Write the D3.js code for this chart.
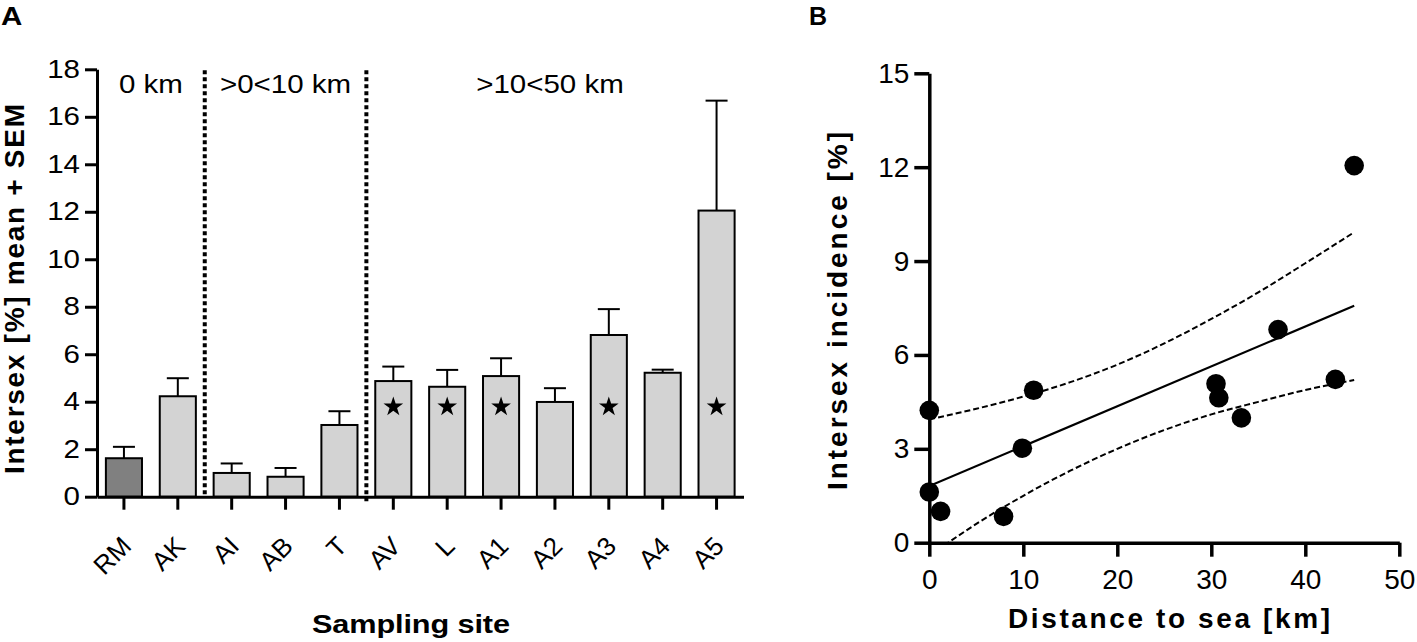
<!DOCTYPE html>
<html>
<head>
<meta charset="utf-8">
<script src="https://cdn.jsdelivr.net/npm/d3@7"></script>
<style>
  body { margin: 0; background: #fff; }
  svg { display: block; font-family: "Liberation Sans", Arial, sans-serif; }
</style>
</head>
<body>
<script>
// panel A: intersex incidence per site (mean, SEM)
const sites = ["RM", "AK", "AI", "AB", "T", "AV", "L", "A1", "A2", "A3", "A4", "A5"];
const meanIncidence = [1.62, 4.23, 1.0, 0.84, 3.02, 4.87, 4.63, 5.08, 3.99, 6.81, 5.22, 12.05];
const semIncidence = [0.48, 0.76, 0.4, 0.37, 0.58, 0.61, 0.71, 0.75, 0.58, 1.09, 0.13, 4.63];
const starredSites = ["AV", "L", "A1", "A3", "A5"];
const starLevel = 3.85;
const referenceSite = "RM";
const groupLabels = ["0 km", ">0<10 km", ">10<50 km"];
const groupSites = [["RM", "AK"], ["AI", "AB", "T"], ["AV", "L", "A1", "A2", "A3", "A4", "A5"]];
const yTicksA = [0, 2, 4, 6, 8, 10, 12, 14, 16, 18];

// panel B: incidence vs distance to sea, same site order
const distanceKm = [0, 0, 1.2, 7.9, 9.9, 11.1, 30.8, 30.5, 33.2, 37.1, 43.2, 45.2];
const fitX = [0, 45.2];
const fitY = [1.81, 7.57];
const bandX = [0, 5, 10, 15, 20, 25, 30, 35, 40, 45.2];
const bandUpper = [3.94, 4.28, 4.67, 5.13, 5.69, 6.37, 7.15, 8.0, 8.93, 9.92];
const bandLower = [-0.42, 0.6, 1.5, 2.3, 3.0, 3.6, 4.1, 4.5, 4.88, 5.2];
const xTicksB = [0, 10, 20, 30, 40, 50];
const yTicksB = [0, 3, 6, 9, 12, 15];

const W = 1417, H = 642;
const stretchA = 1.18; // panel A lettering is wider than plain Arial
const svg = d3.select("body").append("svg").attr("width", W).attr("height", H);

const styleAxis = (g, lw, fs) => {
  g.select(".domain").attr("stroke", "#000").attr("stroke-width", lw);
  g.selectAll(".tick line").attr("stroke", "#000").attr("stroke-width", lw);
  g.selectAll(".tick text").attr("fill", "#000").style("font-size", fs + "px");
};

const drawPanelA = () => {
  const x = d3.scaleBand().domain(sites).range([97, 743.5]).paddingInner(0.33).paddingOuter(0.165);
  const y = d3.scaleLinear().domain([0, 18]).range([496.7, 69.3]);
  const g = svg.append("g");
  const rows = sites.map((s, i) => ({ site: s, mean: meanIncidence[i], sem: semIncidence[i] }));

  g.append("g").selectAll("rect").data(rows).join("rect")
    .attr("x", d => x(d.site))
    .attr("y", d => y(d.mean))
    .attr("width", x.bandwidth())
    .attr("height", d => y(0) - y(d.mean))
    .attr("fill", d => d.site === referenceSite ? "#808080" : "#d3d3d3")
    .attr("stroke", "#000")
    .attr("stroke-width", 2);

  // error bars (mean + SEM only)
  const eb = g.append("g").attr("stroke", "#000").attr("stroke-width", 2);
  const cx = d => x(d.site) + x.bandwidth() / 2;
  eb.selectAll("line.v").data(rows).join("line").attr("class", "v")
    .attr("x1", cx).attr("x2", cx)
    .attr("y1", d => y(d.mean)).attr("y2", d => y(d.mean + d.sem));
  eb.selectAll("line.c").data(rows).join("line").attr("class", "c")
    .attr("x1", d => cx(d) - 11).attr("x2", d => cx(d) + 11)
    .attr("y1", d => y(d.mean + d.sem)).attr("y2", d => y(d.mean + d.sem));

  g.append("g").selectAll("path").data(starredSites).join("path")
    .attr("d", d3.symbol(d3.symbolStar, 120))
    .attr("transform", d => `translate(${x(d) + x.bandwidth() / 2},${y(starLevel) + 1.5})`)
    .attr("fill", "#000");

  // group dividers and labels
  const step = x.step();
  groupSites.forEach((grp, i) => {
    const left = x(grp[0]) + x.bandwidth() / 2 - step / 2;
    const right = x(grp[grp.length - 1]) + x.bandwidth() / 2 + step / 2;
    if (i > 0) {
      g.append("line")
        .attr("x1", left).attr("x2", left)
        .attr("y1", y(18) + 1).attr("y2", y(0) + (i === 2 ? 7 : 0))
        .attr("stroke", "#000").attr("stroke-width", 4)
        .attr("stroke-dasharray", "4,3");
    }
    g.append("text")
      .attr("transform", `translate(${(left + right) / 2 - (i === 2 ? 5 : 0)},92.5) scale(${stretchA},1)`)
      .attr("text-anchor", "middle")
      .style("font-size", "25px")
      .text(groupLabels[i]);
  });

  const xa = g.append("g").attr("transform", `translate(0,${y(0)})`)
    .call(d3.axisBottom(x).tickSize(13).tickSizeOuter(0).tickPadding(0));
  styleAxis(xa, 3, 26);
  xa.selectAll(".tick text")
    .attr("y", 0).attr("dy", 0)
    .attr("text-anchor", "end")
    .attr("transform", "translate(9,51) rotate(-45)");

  const ya = g.append("g").attr("transform", "translate(97,0)")
    .call(d3.axisLeft(y).tickValues(yTicksA).tickSize(12).tickSizeOuter(0).tickPadding(5));
  styleAxis(ya, 3, 25);
  ya.selectAll(".tick text")
    .attr("transform", `translate(-17,0) scale(${stretchA},1) translate(17,0)`);

  g.append("text")
    .attr("transform", "translate(23.5,289) rotate(-90)")
    .attr("text-anchor", "middle")
    .attr("textLength", 370).attr("lengthAdjust", "spacing")
    .style("font-size", "28px").style("font-weight", "bold")
    .text("Intersex [%] mean + SEM");

  g.append("text")
    .attr("transform", `translate(411,633) scale(${stretchA},1)`)
    .attr("text-anchor", "middle")
    .attr("textLength", 198 / stretchA).attr("lengthAdjust", "spacing")
    .style("font-size", "26px").style("font-weight", "bold")
    .text("Sampling site");

  g.append("text").attr("transform", `translate(1,25) scale(${stretchA},1)`)
    .style("font-size", "25px").style("font-weight", "bold").text("A");
};

const drawPanelB = () => {
  const x = d3.scaleLinear().domain([0, 50]).range([929.3, 1399.3]);
  const y = d3.scaleLinear().domain([0, 15]).range([542.7, 73.3]);
  const g = svg.append("g");

  svg.append("defs").append("clipPath").attr("id", "clipB")
    .append("rect").attr("x", x(0)).attr("y", y(15)).attr("width", x(50) - x(0)).attr("height", y(0) - y(15));

  const line = d3.line().x(d => x(d[0])).y(d => y(d[1])).curve(d3.curveMonotoneX);
  const plot = g.append("g").attr("clip-path", "url(#clipB)");

  [bandUpper, bandLower].forEach(band => {
    plot.append("path")
      .datum(bandX.map((v, i) => [v, band[i]]))
      .attr("d", line)
      .attr("fill", "none").attr("stroke", "#000")
      .attr("stroke-width", 2).attr("stroke-dasharray", "6,3");
  });

  plot.append("path")
    .datum(fitX.map((v, i) => [v, fitY[i]]))
    .attr("d", line)
    .attr("fill", "none").attr("stroke", "#000").attr("stroke-width", 2.2);

  g.append("g").selectAll("circle").data(sites.map((s, i) => [distanceKm[i], meanIncidence[i]])).join("circle")
    .attr("cx", d => x(d[0])).attr("cy", d => y(d[1]))
    .attr("r", 9.8).attr("fill", "#000");

  const xa = g.append("g").attr("transform", `translate(0,${y(0)})`)
    .call(d3.axisBottom(x).tickValues(xTicksB).tickSize(14).tickSizeOuter(0).tickPadding(12));
  styleAxis(xa, 3.5, 28);

  const ya = g.append("g").attr("transform", `translate(${x(0)},0)`)
    .call(d3.axisLeft(y).tickValues(yTicksB).tickSize(15).tickSizeOuter(0).tickPadding(5));
  styleAxis(ya, 3.5, 28);

  g.append("text")
    .attr("transform", "translate(847,311) rotate(-90)")
    .attr("text-anchor", "middle")
    .attr("textLength", 358).attr("lengthAdjust", "spacing")
    .style("font-size", "28px").style("font-weight", "bold")
    .text("Intersex incidence [%]");

  g.append("text")
    .attr("x", 1169).attr("y", 628)
    .attr("text-anchor", "middle")
    .attr("textLength", 322).attr("lengthAdjust", "spacing")
    .style("font-size", "28px").style("font-weight", "bold")
    .text("Distance to sea [km]");

  g.append("text").attr("x", 809).attr("y", 25)
    .style("font-size", "25px").style("font-weight", "bold").text("B");
};

drawPanelA();
drawPanelB();
</script>
</body>
</html>
